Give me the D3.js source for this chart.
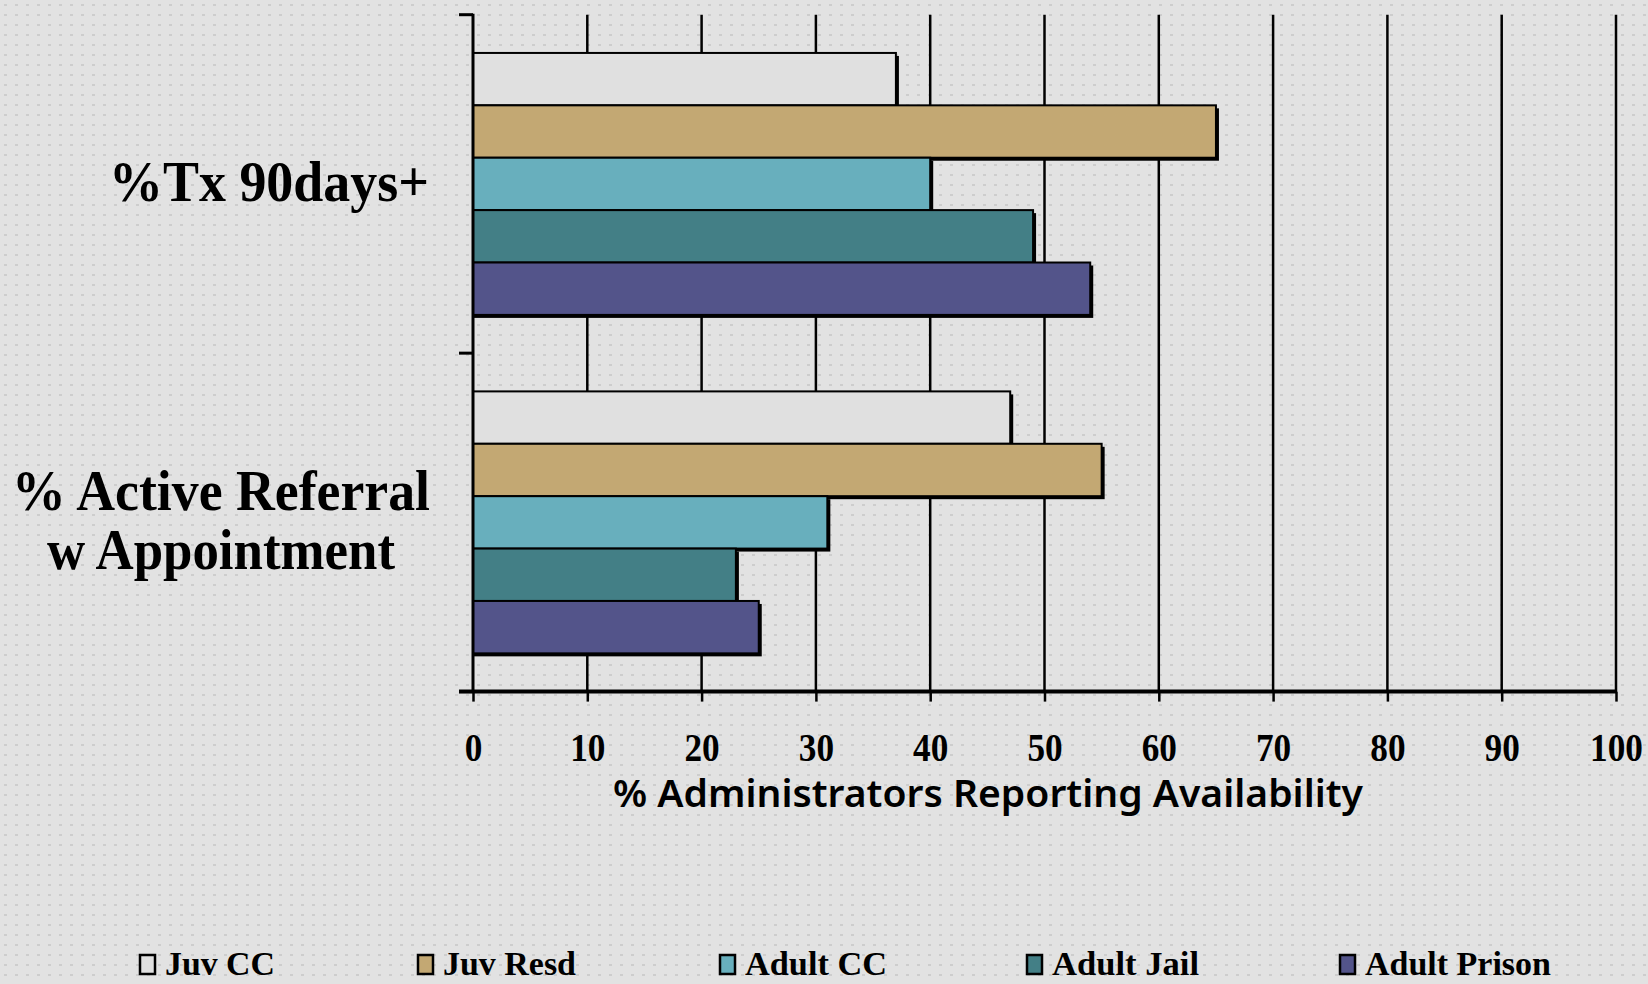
<!DOCTYPE html>
<html><head><meta charset="utf-8">
<script src="https://cdn.jsdelivr.net/npm/d3@7"></script>
<style>html,body{margin:0;padding:0;background:#e2e2e2;overflow:hidden}</style>
</head><body>
<svg id="c" width="1648" height="984"></svg>
<script>
const categories = ["%Tx 90days+", "% Active Referral\nw Appointment"];
const seriesNames = ["Juv CC", "Juv Resd", "Adult CC", "Adult Jail", "Adult Prison"];
const seriesColors = ["#e0e0e0", "#c3a873", "#68afbd", "#437f86", "#53548a"];
const juvCC = [37, 47];
const juvResd = [65, 55];
const adultCC = [40, 31];
const adultJail = [49, 23];
const adultPrison = [54, 25];
const xTicks = [0, 10, 20, 30, 40, 50, 60, 70, 80, 90, 100];
const xTitle = "% Administrators Reporting Availability";

const seriesValues = [juvCC, juvResd, adultCC, adultJail, adultPrison];

(function(){
const svg = d3.select("#c");
const defs = svg.append("defs");
const pat = defs.append("pattern").attr("id","dots").attr("patternUnits","userSpaceOnUse")
  .attr("width",11).attr("height",10);
pat.append("rect").attr("width",11).attr("height",10).attr("fill","#e2e2e2");
pat.append("rect").attr("x",4).attr("y",4).attr("width",3).attr("height",2).attr("fill","#cdcdcd");
svg.append("rect").attr("width",1648).attr("height",984).attr("fill","url(#dots)");

const pLeft = 473, pRight = 1616, pTop = 14.7, pBottom = 691.6;
const x = d3.scaleLinear().domain([0,100]).range([pLeft,pRight]);
const y = d3.scaleBand().domain(categories).range([pTop,pBottom]).padding(0);
const ys = d3.scaleBand().domain(seriesNames).range([0,y.bandwidth()]).paddingInner(0).paddingOuter(0.73);

// gridlines
svg.append("g").selectAll("line").data(xTicks.slice(1)).join("line")
  .attr("x1",d=>x(d)).attr("x2",d=>x(d)).attr("y1",pTop).attr("y2",pBottom)
  .attr("stroke","#000").attr("stroke-width",2.5);

// bars
const g = svg.append("g");
categories.forEach((c,ci)=>{
  seriesNames.forEach((s,si)=>{
    const v = seriesValues[si][ci];
    const y0 = y(c)+ys(s);
    g.append("rect").attr("x",x(0)).attr("y",y0+3).attr("width",x(v)-x(0)+3).attr("height",ys.bandwidth())
      .attr("fill","#000");
  });
  seriesNames.forEach((s,si)=>{
    const v = seriesValues[si][ci];
    const y0 = y(c)+ys(s);
    g.append("rect").attr("x",x(0)).attr("y",y0).attr("width",x(v)-x(0)).attr("height",ys.bandwidth())
      .attr("fill",seriesColors[si]).attr("stroke","#000").attr("stroke-width",2);
  });
});

// y axis
svg.append("line").attr("x1",pLeft).attr("x2",pLeft).attr("y1",pTop-1).attr("y2",pBottom)
  .attr("stroke","#000").attr("stroke-width",3);
const yTickPos = [pTop, pTop + y.bandwidth(), pBottom];
svg.append("g").selectAll("line").data(yTickPos).join("line")
  .attr("x1",pLeft-14).attr("x2",pLeft).attr("y1",d=>d).attr("y2",d=>d)
  .attr("stroke","#000").attr("stroke-width",3);

// x axis
const xAxis = d3.axisBottom(x).tickValues(xTicks).tickSize(10).tickPadding(59).tickFormat(d3.format("d"));
const ax = svg.append("g").attr("transform",`translate(0,${pBottom})`).call(xAxis);
ax.select(".domain").remove();
ax.selectAll(".tick line").attr("stroke","#000").attr("stroke-width",2.5);
ax.selectAll(".tick text").attr("fill","#000")
  .attr("font-family","'Liberation Serif','Times New Roman',serif").attr("font-weight","bold")
  .attr("font-size",41).attr("dy","0").attr("transform","scale(0.86,1)");
svg.append("line").attr("x1",pLeft-14).attr("x2",pRight+1).attr("y1",pBottom).attr("y2",pBottom)
  .attr("stroke","#000").attr("stroke-width",4);

// x title
svg.append("text").attr("x",988).attr("y",807).attr("text-anchor","middle")
  .attr("font-family","'Noto Sans','DejaVu Sans',sans-serif").attr("font-weight",600)
  .attr("font-size",37).attr("textLength",750).attr("lengthAdjust","spacingAndGlyphs")
  .attr("fill","#000").text(xTitle);

// category labels
const catFont = "'Liberation Serif','Times New Roman',serif";
svg.append("text").attr("x",429).attr("y",y(categories[0])+y.bandwidth()/2+17)
  .attr("text-anchor","end").attr("font-family",catFont).attr("font-weight","bold")
  .attr("font-size",57).attr("textLength",320).attr("lengthAdjust","spacingAndGlyphs")
  .text(categories[0]);
const lines = categories[1].split("\n");
const lineLens = [418, 348];
lines.forEach((t,i)=>{
  svg.append("text").attr("x",221).attr("y",y(categories[1])+y.bandwidth()/2 - 12 + i*59)
    .attr("text-anchor","middle").attr("font-family",catFont).attr("font-weight","bold")
    .attr("font-size",57).attr("textLength",lineLens[i]).attr("lengthAdjust","spacingAndGlyphs")
    .text(t);
});

// legend
const legX = [140, 418, 720, 1027, 1340];
const legW = [110, 133, 142, 147, 186];
const lg = svg.append("g");
seriesNames.forEach((s,i)=>{
  lg.append("rect").attr("x",legX[i]).attr("y",955).attr("width",15).attr("height",19)
    .attr("fill",seriesColors[i]).attr("stroke","#000").attr("stroke-width",2.5);
  lg.append("text").attr("x",legX[i]+25).attr("y",975).attr("font-family",catFont)
    .attr("font-weight","bold").attr("font-size",33).attr("textLength",legW[i])
    .attr("lengthAdjust","spacingAndGlyphs").attr("fill","#000").text(s);
});
})();
</script>
</body></html>
